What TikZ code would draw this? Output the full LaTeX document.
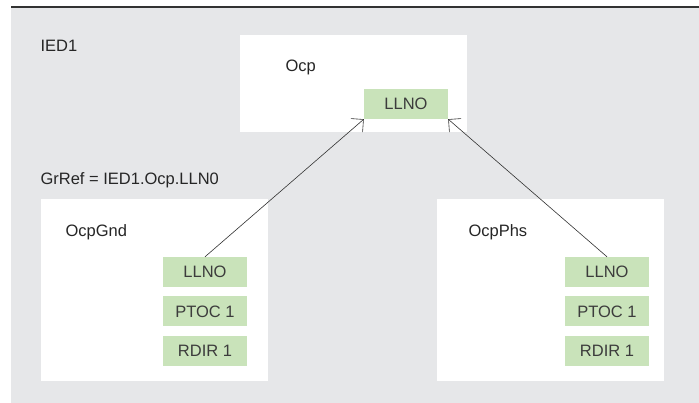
\documentclass[tikz,border=0pt]{standalone}
\usepackage{fontspec}
\setmainfont{Liberation Sans}
\usetikzlibrary{arrows.meta, positioning}
\definecolor{bggray}{RGB}{230, 231, 233}
\definecolor{lngreen}{RGB}{201, 227, 186}
\definecolor{textgray}{RGB}{60, 60, 60}
\definecolor{linegray}{RGB}{50, 50, 50}

\begin{document}
\begin{tikzpicture}[x=1pt, y=-1pt, node distance=9pt,
  every node/.style={font=\fontsize{16.5}{19}\selectfont, text=textgray},
  ldbox/.style={fill=white, minimum width=227pt, inner sep=0pt},
  lnbox/.style={fill=lngreen, minimum width=84pt, minimum height=30pt, inner sep=0pt},
  lbl/.style={anchor=west, text=black!85},
  link/.style={linegray, line width=0.6pt, -{Straight Barb[length=9pt, width=18pt]}}]
\useasboundingbox (0,0) rectangle (699,403);
\fill[bggray] (11,8) rectangle (699,403);
\draw[linegray, line width=1.6pt] (11,7) -- (699,7);
% logical devices
\node[ldbox, minimum height=97pt] (ocp) at (353.5,83.5) {};
\node[ldbox, minimum height=182pt] (gnd) at (154.5,290) {};
\node[ldbox, minimum height=182pt] (phs) at (550.5,290) {};
% labels
\node[lbl] (ied) at (37,46) {IED1};
\node[lbl] (grref) at (37,180) {GrRef = IED1.Ocp.LLN0};
\node[lbl] (tocp) at (282,67) {Ocp};
\node[lbl] (tgnd) at (62,232) {OcpGnd};
\node[lbl] (tphs) at (465,232) {OcpPhs};
% logical nodes
\node[lnbox] (ocpll) at (406,104) {LLNO};
\node[lnbox] (gndll) at (205,272) {LLNO};
\node[lnbox, below=of gndll] (gndpt) {PTOC 1};
\node[lnbox, below=of gndpt] (gndrd) {RDIR 1};
\node[lnbox] (phsll) at (607,272) {LLNO};
\node[lnbox, below=of phsll] (phspt) {PTOC 1};
\node[lnbox, below=of phspt] (phsrd) {RDIR 1};
\draw[link] (gndll.north) -- (ocpll.south west);
\draw[link] (phsll.north) -- (ocpll.south east);
\end{tikzpicture}
\end{document}
